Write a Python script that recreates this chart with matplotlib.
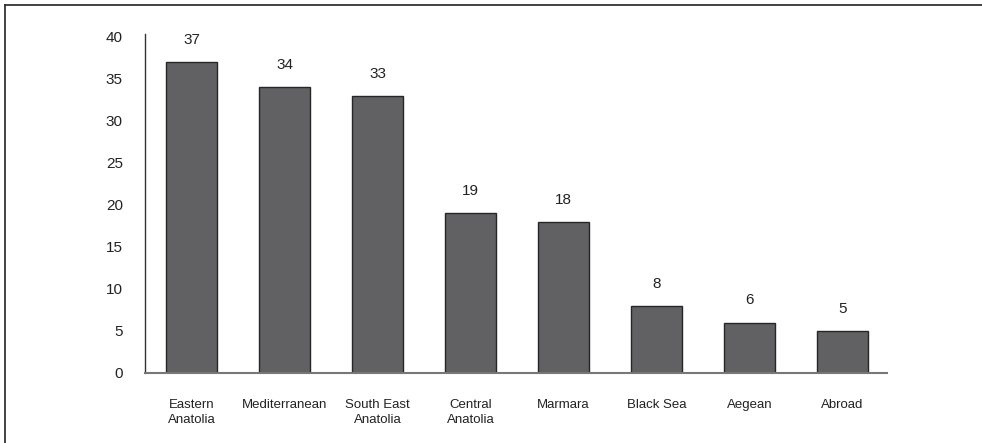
import matplotlib.pyplot as plt
from matplotlib.lines import Line2D

regions = ['Eastern\nAnatolia', 'Mediterranean', 'South East\nAnatolia', 'Central\nAnatolia',
           'Marmara', 'Black Sea', 'Aegean', 'Abroad']
counts = [37, 34, 33, 19, 18, 8, 6, 5]
yticks = [0, 5, 10, 15, 20, 25, 30, 35, 40]

plt.rcParams['font.family'] = ['Liberation Sans', 'DejaVu Sans']

fig = plt.figure(figsize=(9.82, 4.43), dpi=100)
ax = fig.add_axes([145/982, 70/443, 742/982, 336/443])

x = range(len(counts))
bars = ax.bar(x, counts, width=0.55, color='#616163', edgecolor='#262626', linewidth=1.0)
for b, v in zip(bars, counts):
    ax.annotate(str(v), (b.get_x() + b.get_width()/2, v), xytext=(0, 11), textcoords='offset points',
                ha='center', va='bottom', fontsize=11, color='#222222')

ax.set_xlim(-0.5, 7.48)
ax.set_ylim(0, 40)
ax.set_xticks(list(x))
ax.set_xticklabels(regions, fontsize=9.5, color='#222222', linespacing=1.3)
ax.set_yticks(yticks)
ax.set_yticklabels([str(t) for t in yticks], fontsize=11, color='#222222')
ax.tick_params(axis='x', length=0, pad=19)
ax.tick_params(axis='y', length=0, pad=16)

for s in ['top', 'right']:
    ax.spines[s].set_visible(False)
ax.spines['left'].set_color('#333333')
ax.spines['left'].set_linewidth(1.0)
ax.spines['left'].set_bounds(0, 40.4)
ax.spines['bottom'].set_color('#777777')
ax.spines['bottom'].set_linewidth(1.5)

# frame lines along the top and left edge of the figure
fig.add_artist(Line2D([5/982, 1], [1 - 5/443, 1 - 5/443], color='#333333', lw=1.3, transform=fig.transFigure))
fig.add_artist(Line2D([5/982, 5/982], [0, 1 - 5/443], color='#333333', lw=1.3, transform=fig.transFigure))

fig.savefig('out.png', dpi=100)
